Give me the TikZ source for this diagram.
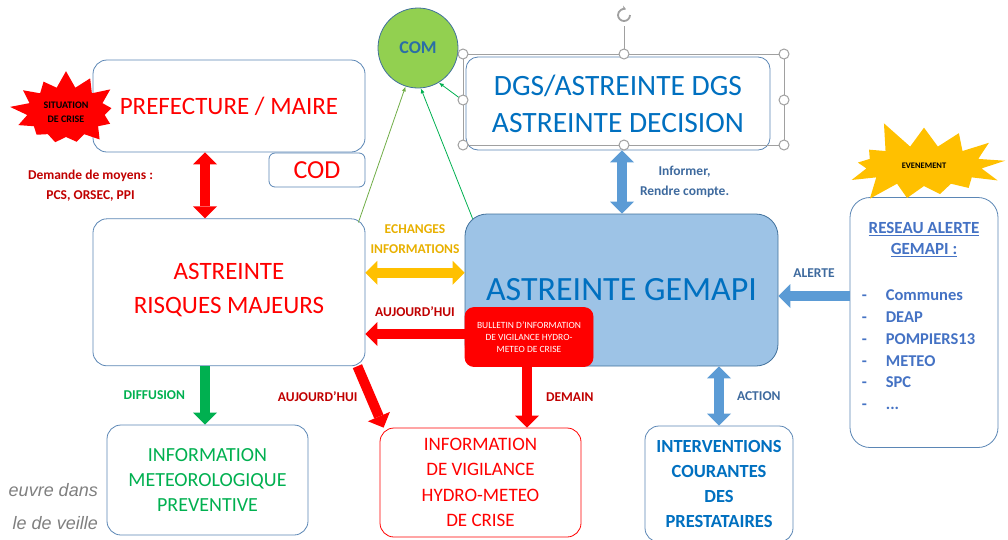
\documentclass[tikz,border=0pt]{standalone}
\usepackage{fontspec}
\setmainfont{Carlito}
\newfontfamily\notefont{Liberation Sans}
\definecolor{Frame}{HTML}{5B86B5}
\definecolor{SkyFill}{HTML}{9DC3E6}
\definecolor{SkyEdge}{HTML}{41719C}
\definecolor{DeepBlue}{HTML}{0070C0}
\definecolor{LabelBlue}{HTML}{3E6A9E}
\definecolor{ListBlue}{HTML}{4472C4}
\definecolor{ComBlue}{HTML}{2A6EA6}
\definecolor{DarkRed}{HTML}{C00000}
\definecolor{Green}{HTML}{00B050}
\definecolor{LeafDark}{HTML}{70AD47}
\definecolor{Leaf}{HTML}{92D050}
\definecolor{Gold}{HTML}{FFC000}
\definecolor{GoldText}{HTML}{E8B000}
\definecolor{ArrowBlue}{HTML}{5B9BD5}
\definecolor{HandleGray}{HTML}{A0A0A0}
\definecolor{NoteGray}{HTML}{7F7F7F}
\usetikzlibrary{arrows.meta,positioning,shapes.symbols}

\begin{document}
\begin{tikzpicture}[x=1pt,y=-1pt,
  box/.style={rounded corners=14pt,draw=Frame,line width=0.8pt,fill=white,align=center,inner sep=0pt},
  burst/.style={starburst,starburst points=13,inner sep=0pt,align=center,
    font=\bfseries\fontsize{10}{14}\selectfont},
  tag/.style={inner sep=0pt,align=center,font=\bfseries\fontsize{13.5}{20}\selectfont},
  fat/.style={line width=10pt,-{Triangle[width=24pt,length=12pt,line width=0pt]}},
  fatboth/.style={line width=10pt,{Triangle[width=24pt,length=12pt,line width=0pt]}-{Triangle[width=24pt,length=12pt,line width=0pt]}},
  thin/.style={line width=0.8pt,-{Latex[length=5pt,width=4pt]}},
  handle/.style={draw=HandleGray,fill=white,line width=1pt}
]
\useasboundingbox (0,0) rectangle (1008,539);

\node[box,minimum width=272pt,minimum height=92pt,text=red,
  font=\fontsize{25}{30}\selectfont] (pref) at (229,106) {PREFECTURE / MAIRE};
\node[box,rounded corners=6pt,minimum width=96pt,minimum height=34pt,text=red,
  font=\fontsize{26}{30}\selectfont] (cod) at (317,170) {COD};
\node[box,below=66pt of pref,minimum width=272pt,minimum height=147pt,text=red,
  font=\fontsize{25}{34}\selectfont] (risques) {ASTREINTE\\RISQUES MAJEURS\\[-26pt]};
\node[circle,minimum size=80pt,inner sep=0pt,fill=Leaf,draw=SkyEdge,line width=0.8pt,
  text=ComBlue,font=\bfseries\fontsize{18}{20}\selectfont] (com) at (418,48) {COM};
\node[box,rounded corners=12pt,minimum width=304pt,minimum height=93pt,text=DeepBlue,
  font=\fontsize{29.5}{37}\selectfont] (dgs) at (618,103.5) {DGS/ASTREINTE DGS\\ASTREINTE DECISION};
\node[box,rounded corners=22pt,minimum width=313pt,minimum height=152pt,fill=SkyFill,
  draw=SkyEdge,text=DeepBlue,font=\fontsize{34}{40}\selectfont] (gemapi) at (621.5,290) {ASTREINTE GEMAPI};
\node[box,rounded corners=9pt,minimum width=128pt,minimum height=59pt,fill=red,draw=red,
  text=white,font=\fontsize{9.5}{11.7}\selectfont] (bull) at (529,337)
  {BULLETIN D’INFORMATION\\DE VIGILANCE HYDRO-\\METEO DE CRISE};
\node[box,minimum width=201pt,minimum height=110pt,text=Green,
  font=\fontsize{20}{25}\selectfont] (meteo) at (207.5,480) {INFORMATION\\METEOROLOGIQUE\\PREVENTIVE};
\node[box,minimum width=201pt,minimum height=109pt,draw=red,text=red,
  font=\fontsize{19}{25.3}\selectfont] (vigil) at (480.5,482.5) {INFORMATION\\DE VIGILANCE\\HYDRO-METEO\\DE CRISE};
\node[box,minimum width=148pt,minimum height=116pt,text=DeepBlue,
  font=\bfseries\fontsize{18.5}{24.7}\selectfont] (interv) at (719,484) {INTERVENTIONS\\COURANTES\\DES\\PRESTATAIRES};
\node[box,rounded corners=20pt,minimum width=148pt,minimum height=250pt] (reseau) at (924,322.5) {};
\node[tag,below=25pt of reseau.north,text=ListBlue,font=\bfseries\fontsize{17}{21}\selectfont]
  (alertetitle) {\underline{RESEAU ALERTE}\\\underline{GEMAPI :}};
\node[tag,anchor=north west,text=ListBlue,font=\bfseries\fontsize{16.5}{17}\selectfont]
  (alertelist) at ([xshift=12pt,yshift=37pt]reseau.west)
  {\renewcommand{\arraystretch}{1.28}\begin{tabular}{@{}l@{\hspace{19pt}}l@{}}
  - & Communes\\ - & DEAP\\ - & POMPIERS13\\ - & METEO\\ - & SPC\\ - & ...
  \end{tabular}};

\node[burst,fill=red,minimum width=114pt,minimum height=86pt,starburst point height=18pt,
  random starburst=17] (crise) at (66,112) {SITUATION\\DE CRISE};
\node[burst,fill=Gold,minimum width=176pt,minimum height=100pt,starburst point height=30pt,
  random starburst=5,font=\bfseries\fontsize{8.5}{10}\selectfont] (event) at (924,166) {EVENEMENT};

% fleches
\draw[fatboth,draw=red] ([xshift=-24pt]pref.south) -- node[tag,text=DarkRed,left=47pt]
  {Demande de moyens :\\PCS, ORSEC, PPI} ([xshift=-24pt]risques.north);
\draw[fatboth,draw=Gold] ([yshift=19.5pt]risques.east) -- node[tag,text=GoldText,above=14pt]
  {ECHANGES\\INFORMATIONS} ([yshift=19.5pt]risques.east -| gemapi.west);
\draw[fat,draw=red] ([yshift=3pt]bull.west) -- node[tag,text=DarkRed,above=12pt]
  {AUJOURD’HUI} ([yshift=3pt]bull.west -| risques.east);
\draw[fat,draw=red] ([xshift=-8pt]risques.south east) -- node[tag,text=DarkRed,left=8pt]
  {AUJOURD’HUI} ([xshift=4pt]vigil.north west);
\draw[fat,draw=Green] ([xshift=-24pt]risques.south) -- node[tag,text=Green,left=15pt]
  {DIFFUSION} ([xshift=-24pt]risques.south |- meteo.north);
\draw[fatboth,draw=ArrowBlue] ([xshift=4pt]dgs.south) -- node[tag,text=LabelBlue,right=13pt]
  {Informer,\\Rendre compte.} ([xshift=4pt]dgs.south |- gemapi.north);
\draw[fat,draw=red] ([xshift=-2pt]bull.south) -- node[tag,text=DarkRed,right=14pt]
  {DEMAIN} ([xshift=-2pt]bull.south |- vigil.north);
\draw[fatboth,draw=ArrowBlue] (interv.north |- gemapi.south) -- node[tag,text=LabelBlue,right=13pt]
  {ACTION} (interv.north);
\draw[fat,draw=ArrowBlue] ([yshift=26.5pt]reseau.west) -- node[tag,text=LabelBlue,above=14pt]
  {ALERTE} ([yshift=26.5pt]reseau.west -| gemapi.east);
\draw[thin,draw=LeafDark] ([xshift=-7pt,yshift=-4pt]risques.north east) -- (com.252);
\draw[thin,draw=Green] ([xshift=8pt,yshift=-5pt]gemapi.north west) -- (com.274);
\draw[thin,draw=Green] ([xshift=-6pt,yshift=5.5pt]dgs.west) -- (com.301);

% poignees de selection
\draw[draw=HandleGray,line width=1pt] (463,54) rectangle (784,145);
\draw[draw=HandleGray,line width=1pt] (624,54) -- (624,26);
\foreach \hx/\hy in {463/54,624/54,784/54,463/100,784/100,463/145,624/145,784/145}
  \draw[handle] (\hx,\hy) circle[radius=5pt];
\draw[draw=HandleGray,line width=1.8pt,-{Stealth[length=4pt,width=5pt]}]
  (630,15) arc[start angle=0,end angle=-290,radius=6pt];

\node[inner sep=0pt,anchor=east,align=right,text=NoteGray,
  font=\notefont\itshape\fontsize{18}{33}\selectfont] (note) at (98,507) {euvre dans\\le de veille};
\end{tikzpicture}
\end{document}
